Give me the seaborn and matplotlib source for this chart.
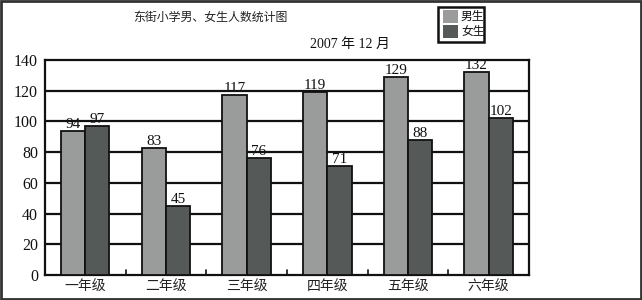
import matplotlib
matplotlib.use("Agg")
import matplotlib.pyplot as plt
import seaborn as sns
import pandas as pd
from matplotlib.patches import Rectangle

grades = ["一年级", "二年级", "三年级", "四年级", "五年级", "六年级"]
boys = [94, 83, 117, 119, 129, 132]
girls = [97, 45, 76, 71, 88, 102]
series = ["男生", "女生"]
colors = ["#9a9c9c", "#555a58"]
yticks = [0, 20, 40, 60, 80, 100, 120, 140]

sns.set_theme(style="white")
plt.rcParams['font.family'] = ['Liberation Serif', 'Noto Sans CJK SC', 'DejaVu Sans']

df = pd.DataFrame({
    "grade": grades * 2,
    "count": boys + girls,
    "sex": [series[0]] * len(grades) + [series[1]] * len(grades),
})

fig = plt.figure(figsize=(6.42, 3.00), dpi=100)
ax = fig.add_axes([0.070, 0.083, 0.754, 0.717])

sns.barplot(data=df, x="grade", y="count", hue="sex", hue_order=series,
            palette=colors, width=0.6, gap=0, edgecolor="#111111", linewidth=1.3,
            saturation=1, ax=ax, legend=False, zorder=3)

for container in ax.containers:
    ax.bar_label(container, fontsize=11, padding=0, color="#111111",
                 family=['Liberation Serif'])

ax.set_ylim(0, 140)
ax.set_xlim(-0.5, len(grades) - 0.5)
ax.set_yticks(yticks)
ax.set_yticklabels([str(v) for v in yticks], fontsize=11.5, color="#111111")
ax.tick_params(axis="y", length=3, width=1.2, color="#111111", pad=2)
ax.tick_params(axis="x", length=0, pad=4, labelsize=10, colors="#222222")
ax.set_xlabel("")
ax.set_ylabel("")
for y in yticks[1:-1]:
    ax.axhline(y, color="#111111", linewidth=1.6, zorder=1)
for b in [0.5, 1.5, 2.5, 3.5, 4.5]:
    ax.plot([b, b], [0, 3], color="#111111", linewidth=1.2, zorder=2)
for s in ax.spines.values():
    s.set_color("#111111")
    s.set_linewidth(1.6)

fig.text(210 / 642, 1 - 17 / 300, "东街小学男、女生人数统计图", ha="center", va="center",
         fontsize=8.6, color="#222222", family=['Noto Sans CJK SC'])
fig.text(350 / 642, 1 - 44 / 300, "2007 年 12 月", ha="center", va="center",
         fontsize=10, color="#111111")

# legend box
lx, ly, lw, lh = 438 / 642, 1 - 42 / 300, 46 / 642, 35 / 300
fig.patches.append(Rectangle((lx, ly), lw, lh, transform=fig.transFigure,
                             facecolor="white", edgecolor="#111111", linewidth=1.8))
for i, (lab, c) in enumerate(zip(series, colors)):
    cy = 1 - (16.5 + i * 15) / 300
    fig.patches.append(Rectangle((443 / 642, cy - 6 / 300), 15 / 642, 12 / 300,
                                 transform=fig.transFigure, facecolor=c, edgecolor="none"))
    fig.text(461 / 642, cy, lab, ha="left", va="center", fontsize=8.5,
             color="#111111", family=['Noto Sans CJK SC'])

# outer border
fig.patches.append(Rectangle((0.002, 0.003), 0.996, 0.994, transform=fig.transFigure,
                             facecolor="none", edgecolor="#333333", linewidth=2))

fig.savefig("out.png", dpi=100)
